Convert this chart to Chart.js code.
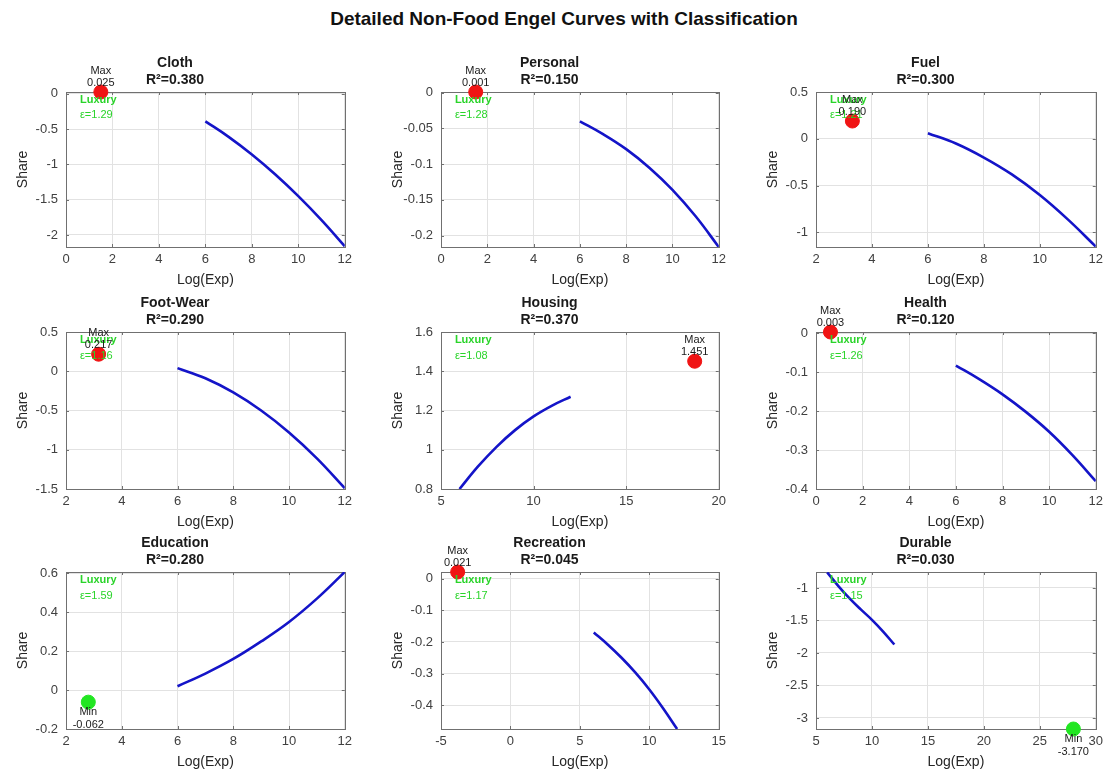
<!DOCTYPE html>
<html>
<head>
<meta charset="utf-8">
<script src="https://cdn.jsdelivr.net/npm/chart.js@4.4.1/dist/chart.umd.min.js"></script>
<style>
  body { margin: 0; background: #fff; }
  #fig { position: relative; width: 1108px; height: 774px; background: #fff; overflow: hidden;
         font-family: "Liberation Sans", Arial, sans-serif; }
  #suptitle { position: absolute; left: 0; top: 8px; width: 1128px; text-align: center;
              font-weight: bold; font-size: 19px; color: #111; }
  canvas { position: absolute; }
</style>
</head>
<body>
<div id="fig">
  <div id="suptitle">Detailed Non-Food Engel Curves with Classification</div>
</div>
<script>
// =============================================================================
// DATA
// =============================================================================

const categories = ['Cloth', 'Personal', 'Fuel', 'Foot-Wear', 'Housing', 'Health', 'Education', 'Recreation', 'Durable'];
const rSquared   = [0.380, 0.150, 0.300, 0.290, 0.370, 0.120, 0.280, 0.045, 0.030];
const elasticity = [1.29, 1.28, 1.21, 1.16, 1.08, 1.26, 1.59, 1.17, 1.15];
const classLabel = ['Luxury', 'Luxury', 'Luxury', 'Luxury', 'Luxury', 'Luxury', 'Luxury', 'Luxury', 'Luxury'];

// fitted Engel curves, sampled at log expenditure 6..12
const logExp = [6, 7, 8, 9, 10, 11, 12];
const clothShare      = [-0.39, -0.61, -0.86, -1.14, -1.45, -1.79, -2.16];
const personalShare   = [-0.040, -0.058, -0.079, -0.105, -0.136, -0.173, -0.216];
const fuelShare       = [0.06, -0.05, -0.20, -0.38, -0.60, -0.86, -1.15];
const footWearShare   = [0.04, -0.09, -0.27, -0.50, -0.78, -1.11, -1.49];
const housingShare    = [0.80, 0.915, 1.015, 1.10, 1.17, 1.225, 1.27];
const healthShare     = [-0.083, -0.118, -0.157, -0.202, -0.253, -0.313, -0.380];
const educationShare  = [0.02, 0.085, 0.16, 0.25, 0.35, 0.47, 0.607];
const recreationShare = [-0.17, -0.208, -0.25, -0.297, -0.35, -0.41, -0.475];
const durableShare    = [-0.76, -0.97, -1.16, -1.33, -1.49, -1.67, -1.87];
const curves = [clothShare, personalShare, fuelShare, footWearShare, housingShare,
                healthShare, educationShare, recreationShare, durableShare];

// highlighted extreme point of each panel
const extremeKind = ['Max', 'Max', 'Max', 'Max', 'Max', 'Max', 'Min', 'Max', 'Min'];
const extremeX    = [1.5, 1.5, 3.3, 3.17, 18.7, 0.62, 2.8, -3.8, 28.0];
const extremeY    = [0.025, 0.001, 0.190, 0.217, 1.451, 0.003, -0.062, 0.021, -3.170];

// axis ranges and ticks
const xLimits = [[0, 12], [0, 12], [2, 12], [2, 12], [5, 20], [0, 12], [2, 12], [-5, 15], [5, 30]];
const yLimits = [[-2.17, 0.025], [-0.216, 0.001], [-1.155, 0.5], [-1.5, 0.5], [0.8, 1.6],
                 [-0.4, 0.003], [-0.2, 0.607], [-0.475, 0.021], [-3.17, -0.754]];
const xTicks = [
  [0, 2, 4, 6, 8, 10, 12], [0, 2, 4, 6, 8, 10, 12], [2, 4, 6, 8, 10, 12],
  [2, 4, 6, 8, 10, 12], [5, 10, 15, 20], [0, 2, 4, 6, 8, 10, 12],
  [2, 4, 6, 8, 10, 12], [-5, 0, 5, 10, 15], [5, 10, 15, 20, 25, 30]
];
const yTicks = [
  [-2, -1.5, -1, -0.5, 0], [-0.2, -0.15, -0.1, -0.05, 0], [-1, -0.5, 0, 0.5],
  [-1.5, -1, -0.5, 0, 0.5], [0.8, 1, 1.2, 1.4, 1.6], [-0.4, -0.3, -0.2, -0.1, 0],
  [-0.2, 0, 0.2, 0.4, 0.6], [-0.4, -0.3, -0.2, -0.1, 0], [-3, -2.5, -2, -1.5, -1]
];

// =============================================================================
// LAYOUT & STYLE
// =============================================================================

// plot area of each panel: [left, top, width, height]
const plotBoxes = [
  [66, 92, 284, 155], [441, 92, 283, 155], [816, 92, 285, 155],
  [66, 332, 284, 157], [441, 332, 283, 157], [816, 332, 285, 157],
  [66, 572, 284, 157], [441, 572, 283, 157], [816, 572, 285, 157]
];
const AXIS_W = 66, TOP_H = 50, BOTTOM_H = 45, RIGHT_PAD = 7;

const FONT = '"Liberation Sans", Arial, sans-serif';
const LINE_BLUE = '#1414c8';
const MARK_RED = '#f01414';
const MARK_GREEN = '#22e622';
const TEXT_GREEN = '#2ad42a';
const GRID = '#e2e2e2';
const BOX = '#707070';

Chart.defaults.font.family = FONT;

// box around the axes with MATLAB-style inward ticks
const boxPlugin = {
  id: 'box',
  beforeDatasetsDraw(chart) {
    const { ctx, chartArea: a, scales } = chart;
    ctx.save();
    ctx.strokeStyle = BOX;
    ctx.lineWidth = 1;
    ctx.beginPath();
    scales.x.ticks.forEach(t => {
      const px = Math.round(scales.x.getPixelForValue(t.value)) + 0.5;
      ctx.moveTo(px, a.bottom); ctx.lineTo(px, a.bottom - 3);
      ctx.moveTo(px, a.top); ctx.lineTo(px, a.top + 3);
    });
    scales.y.ticks.forEach(t => {
      const py = Math.round(scales.y.getPixelForValue(t.value)) + 0.5;
      ctx.moveTo(a.left, py); ctx.lineTo(a.left + 3, py);
      ctx.moveTo(a.right, py); ctx.lineTo(a.right - 3, py);
    });
    ctx.stroke();
    ctx.strokeRect(Math.round(a.left) + 0.5, Math.round(a.top) + 0.5,
                   Math.round(a.width), Math.round(a.height));
    ctx.restore();
  }
};

// classification text and extreme-point labels
const notePlugin = {
  id: 'notes',
  afterDatasetsDraw(chart, args, opts) {
    const { ctx, chartArea: a, scales } = chart;
    const i = opts.index;
    ctx.save();
    ctx.textBaseline = 'middle';
    ctx.textAlign = 'left';
    const tx = a.left + 0.05 * a.width;
    ctx.fillStyle = TEXT_GREEN;
    ctx.font = 'bold 11px ' + FONT;
    ctx.fillText(classLabel[i], tx, a.top + 0.05 * a.height);
    ctx.font = '11px ' + FONT;
    ctx.fillText('\u03b5=' + elasticity[i].toFixed(2), tx, a.top + 0.15 * a.height);

    const px = scales.x.getPixelForValue(extremeX[i]);
    const py = scales.y.getPixelForValue(extremeY[i]);
    ctx.fillStyle = '#1a1a1a';
    ctx.textAlign = 'center';
    const val = extremeY[i].toFixed(3);
    if (extremeKind[i] === 'Max') {
      ctx.fillText('Max', px, py - 21.5);
      ctx.fillText(val, px, py - 9);
    } else {
      ctx.fillText('Min', px, py + 10);
      ctx.fillText(val, px, py + 22.5);
    }
    ctx.restore();
  }
};

// =============================================================================
// PANELS
// =============================================================================

function makePanel(i) {
  const [left, top, w, h] = plotBoxes[i];
  const canvas = document.createElement('canvas');
  const cw = w + AXIS_W + RIGHT_PAD;
  const ch = h + TOP_H + BOTTOM_H;
  canvas.width = cw;
  canvas.height = ch;
  canvas.style.left = (left - AXIS_W) + 'px';
  canvas.style.top = (top - TOP_H) + 'px';
  canvas.style.width = cw + 'px';
  canvas.style.height = ch + 'px';
  document.getElementById('fig').appendChild(canvas);

  const isMax = extremeKind[i] === 'Max';

  new Chart(canvas, {
    type: 'scatter',
    data: {
      datasets: [
        {
          type: 'line',
          data: logExp.map((x, k) => ({ x: x, y: curves[i][k] })),
          borderColor: LINE_BLUE,
          borderWidth: 2.6,
          pointRadius: 0,
          fill: false,
          tension: 0.4
        },
        {
          data: [{ x: extremeX[i], y: extremeY[i] }],
          pointRadius: 7,
          pointBackgroundColor: isMax ? MARK_RED : MARK_GREEN,
          pointBorderColor: isMax ? MARK_RED : MARK_GREEN,
          clip: false
        }
      ]
    },
    options: {
      responsive: false,
      animation: false,
      devicePixelRatio: 1,
      layout: { padding: { left: 0, right: RIGHT_PAD, top: 0, bottom: 0 } },
      plugins: {
        legend: { display: false },
        tooltip: { enabled: false },
        title: {
          display: true,
          text: [categories[i], 'R\u00b2=' + rSquared[i].toFixed(3)],
          color: '#1a1a1a',
          font: { size: 14, weight: 'bold', lineHeight: 1.2 },
          padding: { top: 12.8, bottom: 3.6 }
        },
        notes: { index: i }
      },
      scales: {
        x: {
          type: 'linear',
          min: xLimits[i][0],
          max: xLimits[i][1],
          afterBuildTicks: s => { s.ticks = xTicks[i].map(v => ({ value: v })); },
          afterFit: s => { s.height = BOTTOM_H; },
          grid: { color: GRID, drawTicks: false },
          border: { display: false },
          ticks: {
            color: '#404040', font: { size: 13 }, padding: 5,
            maxRotation: 0, autoSkip: false, callback: v => String(v)
          },
          title: {
            display: true, text: 'Log(Exp)', color: '#262626',
            font: { size: 14, lineHeight: 1.2 }, padding: { top: 0, bottom: 3 }
          }
        },
        y: {
          type: 'linear',
          min: yLimits[i][0],
          max: yLimits[i][1],
          afterBuildTicks: s => { s.ticks = yTicks[i].map(v => ({ value: v })); },
          afterFit: s => { s.width = AXIS_W; },
          grid: { color: GRID, drawTicks: false },
          border: { display: false },
          ticks: {
            color: '#404040', font: { size: 13 }, padding: 8,
            autoSkip: false, callback: v => String(v)
          },
          title: {
            display: true, text: 'Share', color: '#262626',
            font: { size: 14, lineHeight: 1.2 }, padding: { top: 15, bottom: 0 }
          }
        }
      }
    },
    plugins: [boxPlugin, notePlugin]
  });
}

categories.forEach((c, i) => makePanel(i));
</script>
</body>
</html>
